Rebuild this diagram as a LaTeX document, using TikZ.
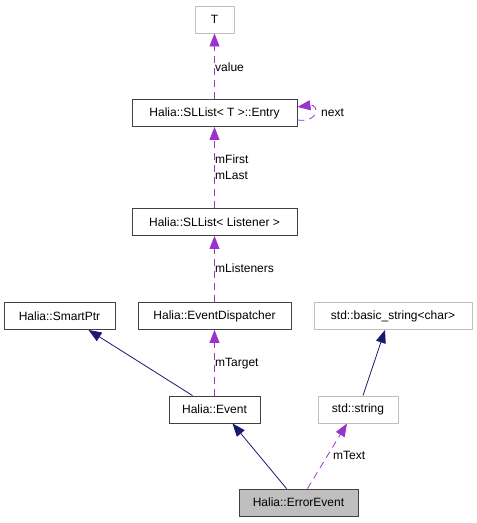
\documentclass[tikz,border=0pt]{standalone}
\usepackage{fontspec}
\setmainfont{Liberation Sans}
\usetikzlibrary{arrows.meta}
\definecolor{dep}{HTML}{9A32CD}
\definecolor{inh}{HTML}{191970}
\definecolor{grayb}{HTML}{BFBFBF}
\begin{document}
\begin{tikzpicture}[x=1pt,y=-1pt,
  box/.style={draw=black!75,line width=0.9pt,minimum height=27pt,inner sep=0pt,font=\fontsize{12}{14}\selectfont},
  gbox/.style={box,draw=grayb},
  deparrow/.style={draw=dep,dashed,dash pattern=on 7pt off 5pt,line width=0.8pt,-{Triangle[length=13pt,width=10pt,fill=dep]}},
  inharrow/.style={draw=inh,line width=0.8pt,-{Triangle[length=13pt,width=10pt,fill=inh]}},
  lbl/.style={font=\fontsize{12}{14}\selectfont,inner sep=0pt,anchor=west}]
\useasboundingbox (0,0) rectangle (477,523);
\node[gbox,minimum width=39pt] (T) at (214.5,19.5) {T};
\node[box,minimum width=165pt] (entry) at (214.5,113) {Halia::SLList< T >::Entry};
\node[box,minimum width=165pt] (sll) at (214.5,222) {Halia::SLList< Listener >};
\node[box,minimum width=111pt] (smart) at (59.5,316) {Halia::SmartPtr};
\node[box,minimum width=153pt] (disp) at (214.5,316) {Halia::EventDispatcher};
\node[gbox,minimum width=158pt] (bstr) at (393,316) {std::basic\_string<char>};
\node[box,minimum width=91pt] (event) at (214.5,409.5) {Halia::Event};
\node[gbox,minimum width=80pt] (str) at (358,409.5) {std::string};
\node[box,fill=grayb,minimum width=119pt] (err) at (298.5,502.5) {Halia::ErrorEvent};

\draw[deparrow] (entry.north) -- (T.south);
\node[lbl] (lvalue) at (215,67) {value};
\draw[deparrow] ([yshift=-7pt]entry.east) .. controls +(22,3) and +(22,-3) .. ([yshift=6pt]entry.east);
\node[lbl] (lnext) at (321,113) {next};
\draw[deparrow] (sll.north) -- (entry.south);
\node[lbl] (lfirst) at (215,159) {mFirst};
\node[lbl] (llast) at (215,175) {mLast};
\draw[deparrow] (disp.north) -- (sll.south);
\node[lbl] (llist) at (215,268) {mListeners};
\draw[deparrow] (event.north) -- (disp.south);
\node[lbl] (ltarget) at (215,364) {mTarget};
\draw[inharrow] ([xshift=-22pt]event.north) -- ([xshift=29pt]smart.south);
\draw[inharrow] ([xshift=-12pt]err.north) -- ([xshift=18pt]event.south);
\draw[inharrow] ([xshift=5pt]str.north) -- ([xshift=-8pt]bstr.south);
\draw[deparrow] ([xshift=9pt]err.north) -- ([xshift=-11pt]str.south);
\node[lbl] (ltext) at (333,455) {mText};
\end{tikzpicture}
\end{document}
